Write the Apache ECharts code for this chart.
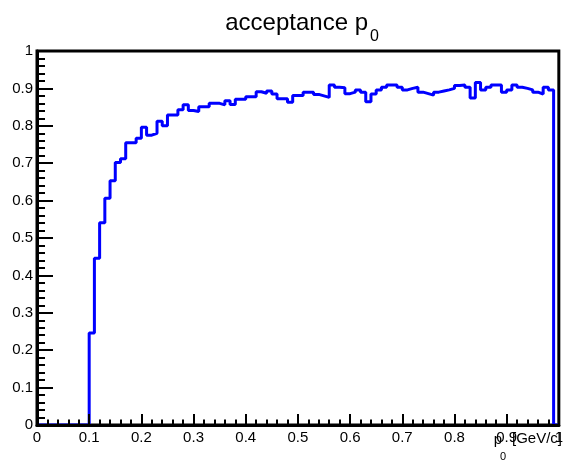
<!DOCTYPE html>
<html>
<head>
<meta charset="utf-8">
<script src="https://cdn.jsdelivr.net/npm/echarts@6/dist/echarts.min.js"></script>
<style>
  html, body { margin: 0; padding: 0; background: #fff; }
  #chart { width: 566px; height: 462px; }
</style>
</head>
<body>
<div id="chart"></div>
<script>
// Histogram binning: 100 bins of width 0.01 GeV/c from 0 to 1
const binLow = 0.0;
const binWidth = 0.01;

// Acceptance per bin (bin contents, in bin order)
const acceptance = [
  0, 0, 0, 0, 0, 0, 0, 0, 0, 0,
  0.246, 0.446, 0.541, 0.606, 0.653, 0.702, 0.712, 0.755, 0.755, 0.767,
  0.796, 0.775, 0.780, 0.812, 0.800, 0.829, 0.829, 0.843, 0.856, 0.841,
  0.838, 0.851, 0.851, 0.860, 0.860, 0.856, 0.867, 0.857, 0.871, 0.871,
  0.878, 0.878, 0.891, 0.887, 0.893, 0.885, 0.872, 0.872, 0.863, 0.881,
  0.881, 0.890, 0.890, 0.884, 0.880, 0.876, 0.909, 0.903, 0.902, 0.886,
  0.890, 0.896, 0.890, 0.864, 0.885, 0.896, 0.903, 0.909, 0.909, 0.903,
  0.896, 0.900, 0.903, 0.890, 0.886, 0.882, 0.890, 0.893, 0.896, 0.900,
  0.908, 0.909, 0.903, 0.874, 0.916, 0.896, 0.903, 0.909, 0.909, 0.890,
  0.896, 0.909, 0.903, 0.900, 0.896, 0.890, 0.885, 0.903, 0.896, 0
];

// Axis tick values
const xTicks = [0, 0.1, 0.2, 0.3, 0.4, 0.5, 0.6, 0.7, 0.8, 0.9, 1];
const yTicks = [0, 0.1, 0.2, 0.3, 0.4, 0.5, 0.6, 0.7, 0.8, 0.9, 1];

// Step outline: one point per bin low edge, plus the upper edge of the last bin
const outline = acceptance.map((v, i) => [+(binLow + i * binWidth).toFixed(4), v]);
outline.push([+(binLow + acceptance.length * binWidth).toFixed(4), 0]);

const FONT = 'Liberation Sans, Arial, Helvetica, sans-serif';

const chart = echarts.init(document.getElementById('chart'), null, { renderer: 'canvas' });

chart.setOption({
  animation: false,
  backgroundColor: '#fff',
  grid: {
    left: 37, right: 3, top: 51, bottom: 37,
    show: true, borderColor: '#000', borderWidth: 3, backgroundColor: '#fff'
  },
  xAxis: {
    type: 'value',
    z: 5,
    min: xTicks[0], max: xTicks[xTicks.length - 1],
    interval: xTicks[1] - xTicks[0],
    axisLine: { show: true, onZero: false, lineStyle: { color: '#000', width: 3 } },
    axisTick: { show: true, inside: true, length: 11, lineStyle: { color: '#000', width: 2 } },
    minorTick: { show: true, splitNumber: 5, length: 5.5, lineStyle: { color: '#000', width: 2 } },
    splitLine: { show: false },
    axisLabel: {
      show: true, margin: 5, color: '#000', fontSize: 15, fontFamily: FONT,
      showMinLabel: true, showMaxLabel: true,
      formatter: v => String(+v.toFixed(2))
    }
  },
  yAxis: {
    type: 'value',
    z: 5,
    min: yTicks[0], max: yTicks[yTicks.length - 1],
    interval: yTicks[1] - yTicks[0],
    axisLine: { show: true, onZero: false, lineStyle: { color: '#000', width: 3 } },
    axisTick: { show: true, inside: true, length: 16, lineStyle: { color: '#000', width: 2 } },
    minorTick: { show: true, splitNumber: 5, length: 8, lineStyle: { color: '#000', width: 2 } },
    splitLine: { show: false },
    axisLabel: {
      show: true, margin: 4, color: '#000', fontSize: 15, fontFamily: FONT,
      showMinLabel: true, showMaxLabel: true,
      formatter: v => String(+v.toFixed(2))
    }
  },
  series: [{
    type: 'line',
    step: 'end',
    symbol: 'none',
    clip: false,
    data: outline,
    lineStyle: { color: '#0000ff', width: 3 },
    z: 2
  }],
  graphic: [
    {
      type: 'text', x: 368, y: 11,
      style: { text: 'acceptance p', font: '24px ' + FONT, fill: '#000', textAlign: 'right', textVerticalAlign: 'top' }
    },
    {
      type: 'text', x: 370, y: 29,
      style: { text: '0', font: '16px ' + FONT, fill: '#000', textAlign: 'left', textVerticalAlign: 'top' }
    },
    {
      type: 'text', x: 502, y: 432,
      style: { text: 'p', font: '15px ' + FONT, fill: '#000', textAlign: 'right', textVerticalAlign: 'top' }
    },
    {
      type: 'text', x: 500, y: 451,
      style: { text: '0', font: '11px ' + FONT, fill: '#000', textAlign: 'left', textVerticalAlign: 'top' }
    },
    {
      type: 'text', x: 562, y: 431,
      style: { text: '[GeV/c]', font: '15px ' + FONT, fill: '#000', textAlign: 'right', textVerticalAlign: 'top' }
    }
  ]
});
</script>
</body>
</html>
